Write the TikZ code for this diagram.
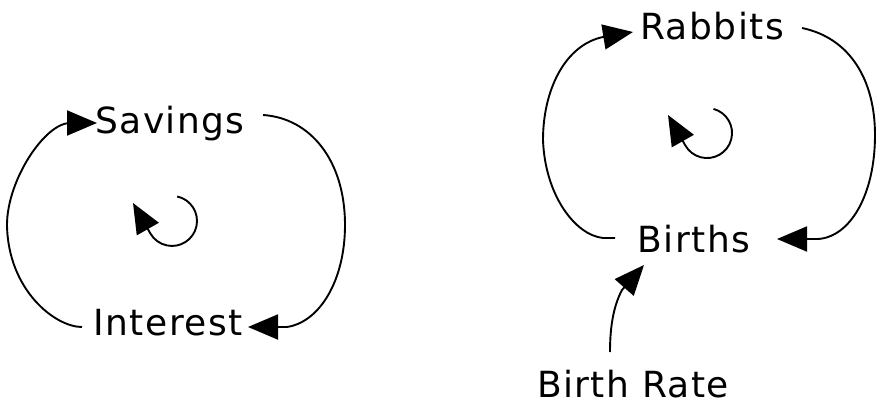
\documentclass[tikz,border=0pt]{standalone}
\usepackage{fontspec}
\setmainfont{DejaVu Sans}[LetterSpace=4]
\usetikzlibrary{arrows.meta}
\begin{document}
\begin{tikzpicture}[x=1pt,y=-1pt,
  lbl/.style={font=\fontsize{36}{40}\selectfont, inner sep=0pt, anchor=base},
  link/.style={line width=1.9pt, -{Triangle[length=30pt,width=25pt]}},
]
\useasboundingbox[fill=white] (0,0) rectangle (876,404);

\node[lbl] (sav) at (170,133) {Savings};
\node[lbl] (int) at (168,335) {Interest};
\node[lbl] (rab) at (712,40) {Rabbits};
\node[lbl] (bir) at (694,252) {Births};
\node[lbl] (bra) at (633,397) {Birth Rate};

% Savings -> Interest
\draw[link] ([xshift=93pt,yshift=18pt]sav.base)
  .. controls (310,118) and (345,160) .. (345,225)
  .. controls (345,280) and (320,322) .. (287,327)
  -- ([xshift=80pt,yshift=8pt]int.base);
% Interest -> Savings
\draw[link] ([xshift=-86pt,yshift=8pt]int.base)
  .. controls (55,327) and (8,290) .. (7,225)
  .. controls (7,180) and (45,123) .. (70,123)
  -- ([xshift=-73pt,yshift=10pt]sav.base);
% Savings loop marker
\draw[link] ([xshift=7.2pt,yshift=-63.5pt]sav.base)
  arc[start angle=-78,end angle=150,radius=25]
  -- ([xshift=-37pt,yshift=-70pt]sav.base);

% Rabbits -> Births
\draw[link] ([xshift=90pt,yshift=12pt]rab.base)
  .. controls (850,38) and (875,80) .. (875,135)
  .. controls (875,195) and (850,237) .. (818,239)
  -- ([xshift=83pt,yshift=13pt]bir.base);
% Births -> Rabbits
\draw[link] ([xshift=-79pt,yshift=14pt]bir.base)
  -- (603,238)
  .. controls (575,235) and (545,195) .. (543,140)
  .. controls (543,90) and (565,45) .. (603,37)
  -- ([xshift=-79pt,yshift=8pt]rab.base);
% Rabbits loop marker
\draw[link] ([xshift=1.5pt,yshift=-68.9pt]rab.base)
  arc[start angle=-75,end angle=150,radius=25]
  -- ([xshift=-44pt,yshift=-75pt]rab.base);

% Birth Rate -> Births
\draw[link] ([xshift=-23pt,yshift=45pt]bra.base)
  .. controls (610,325) and (614,305) .. (622,290)
  -- ([xshift=-50pt,yshift=-13pt]bir.base);
\end{tikzpicture}
\end{document}
